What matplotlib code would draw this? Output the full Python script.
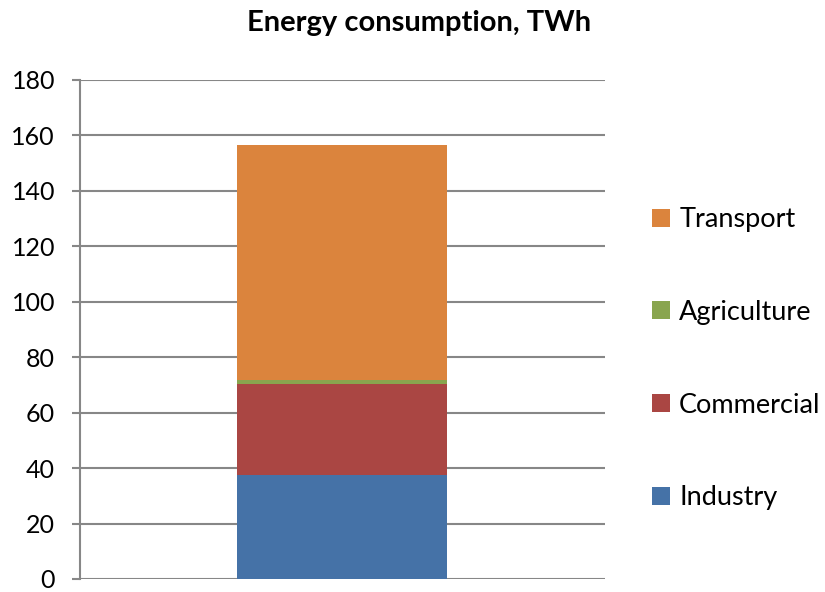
import matplotlib.pyplot as plt
from matplotlib.patches import Patch

# Energy consumption by sector, TWh (one stacked bar)
sectors = ["Industry", "Commercial", "Agriculture", "Transport"]
values = [37.5, 32.9, 1.5, 84.8]
colors = ["#4572a7", "#aa4643", "#89a54e", "#db843d"]
y_ticks = [0, 20, 40, 60, 80, 100, 120, 140, 160, 180]

plt.rcParams['font.family'] = ['Lato', 'DejaVu Sans']

fig = plt.figure(figsize=(8.25, 5.92), dpi=100)
ax = fig.add_axes([0.097, 0.022, 0.636, 0.843])

# stack the bars
bottom = 0
for name, val, col in zip(sectors, values, colors):
    ax.bar(0, val, width=0.4, bottom=bottom, color=col, label=name, zorder=3)
    bottom += val

ax.set_xlim(-0.5, 0.5)
ax.set_ylim(0, 180)
ax.set_yticks(y_ticks)
ax.set_xticks([])

grid_col = "#878787"
ax.yaxis.grid(True, color=grid_col, linewidth=1.5, zorder=0)
for side in ["top", "right", "bottom"]:
    ax.spines[side].set_visible(False)
ax.spines["left"].set_color(grid_col)
ax.spines["left"].set_linewidth(1.5)
ax.tick_params(axis="y", length=6, width=1.5, color=grid_col, pad=12, labelsize=18)

fig.text(0.508, 0.961, "Energy consumption, TWh", ha="center", va="center",
         fontsize=21, fontweight="bold")

# legend in reverse order, like the original
handles = [Patch(facecolor=c) for c in colors][::-1]
fig.legend(handles, sectors[::-1], loc="center left", bbox_to_anchor=(0.774, 0.394),
           frameon=False, fontsize=19.5, labelspacing=2.5, handlelength=0.65,
           handleheight=0.65, handletextpad=0.35, borderpad=0)

fig.savefig("out.png", dpi=100)
